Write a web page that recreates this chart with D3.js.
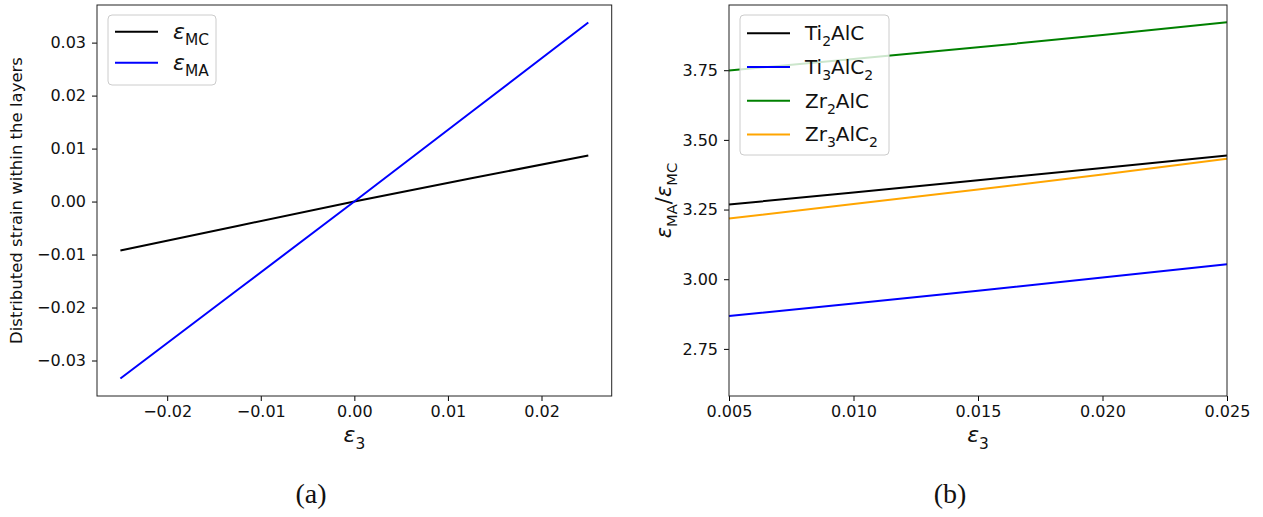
<!DOCTYPE html>
<html>
<head>
<meta charset="utf-8">
<script src="https://cdn.jsdelivr.net/npm/d3@7/dist/d3.min.js"></script>
<style>
  body { margin: 0; background: #fff; }
  svg { display: block; font-family: "DejaVu Sans", sans-serif; }
</style>
</head>
<body>
<div id="chart"></div>
<script>
// panel (a): strain in each layer vs applied strain
const strainX = [-0.025, -0.0125, 0, 0.0125, 0.025];
const strainMC = [-0.00925, -0.0046, 0, 0.0044, 0.00868];
const strainMA = [-0.0334, -0.0167, 0, 0.0169, 0.0338];

// panel (b): ratio eps_MA / eps_MC
const ratioX = [0.005, 0.010, 0.015, 0.020, 0.025];
const ti2alc = [3.268, 3.311, 3.355, 3.399, 3.444];
const ti3alc2 = [2.868, 2.913, 2.959, 3.006, 3.054];
const zr2alc = [3.749, 3.790, 3.832, 3.876, 3.922];
const zr3alc2 = [3.218, 3.270, 3.322, 3.376, 3.432];

const ticksA_x = [-0.02, -0.01, 0, 0.01, 0.02];
const ticksA_y = [-0.03, -0.02, -0.01, 0, 0.01, 0.02, 0.03];
const ticksB_x = [0.005, 0.010, 0.015, 0.020, 0.025];
const ticksB_y = [2.75, 3.00, 3.25, 3.50, 3.75];

const W = 1263, H = 517;
const svg = d3.select('#chart').append('svg').attr('width', W).attr('height', H);

// subscripted label: parts = [[text, isSub, italic]]
function richText(sel, parts, size) {
  let sub = false;
  parts.forEach(([t, isSub, ital]) => {
    const ts = sel.append('tspan').text(t)
      .attr('font-size', isSub ? size * 0.7 : size)
      .attr('font-style', ital ? 'italic' : 'normal');
    if (isSub && !sub) ts.attr('dy', size * 0.3);
    if (!isSub && sub) ts.attr('dy', -size * 0.3);
    sub = isSub;
  });
}

function panel(cfg) {
  const x = d3.scaleLinear().domain(cfg.xd).range([cfg.l, cfg.r]);
  const y = d3.scaleLinear().domain(cfg.yd).range([cfg.b, cfg.t]);
  const g = svg.append('g');

  g.append('g').attr('transform', `translate(0,${cfg.b})`)
    .call(d3.axisBottom(x).tickValues(cfg.xt).tickFormat(d3.format(cfg.xf)).tickSize(5).tickPadding(5))
    .call(a => a.select('.domain').remove())
    .call(a => a.selectAll('text').attr('font-size', 16).attr('font-family', 'DejaVu Sans').attr('fill', '#111'));
  g.append('g').attr('transform', `translate(${cfg.l},0)`)
    .call(d3.axisLeft(y).tickValues(cfg.yt).tickFormat(d3.format(cfg.yf)).tickSize(5).tickPadding(6))
    .call(a => a.select('.domain').remove())
    .call(a => a.selectAll('text').attr('font-size', 16).attr('font-family', 'DejaVu Sans').attr('fill', '#111'));

  const line = d3.line().x(d => x(d[0])).y(d => y(d[1]));
  cfg.series.forEach(s => {
    g.append('path').datum(cfg.xs.map((v, i) => [v, s.v[i]]))
      .attr('d', line).attr('fill', 'none').attr('stroke', s.c).attr('stroke-width', 2);
  });

  g.append('rect').attr('x', cfg.l).attr('y', cfg.t)
    .attr('width', cfg.r - cfg.l).attr('height', cfg.b - cfg.t)
    .attr('fill', 'none').attr('stroke', '#222').attr('stroke-width', 1);

  // legend
  const lg = cfg.legend;
  g.append('rect').attr('x', lg.x).attr('y', lg.y).attr('width', lg.w).attr('height', lg.h)
    .attr('rx', 4).attr('fill', 'rgba(255,255,255,0.8)').attr('stroke', '#ccc');
  cfg.series.forEach((s, i) => {
    const yy = lg.y0 + i * lg.dy;
    g.append('line').attr('x1', lg.x + 7).attr('x2', lg.x + 50).attr('y1', yy).attr('y2', yy)
      .attr('stroke', s.c).attr('stroke-width', 2);
    const t = g.append('text').attr('x', lg.x + 65).attr('y', yy + 7).attr('fill', '#111');
    richText(t, s.label, lg.fs);
  });

  // x label
  const xl = g.append('text').attr('x', (cfg.l + cfg.r) / 2).attr('y', 442)
    .attr('text-anchor', 'middle').attr('fill', '#111');
  richText(xl, [['ε', false, true], ['3', true, false]], 22);

  // y label
  const yl = g.append('text')
    .attr('transform', `translate(${cfg.ylx},${(cfg.t + cfg.b) / 2}) rotate(-90)`)
    .attr('text-anchor', 'middle').attr('fill', '#111');
  richText(yl, cfg.ylabel, cfg.ylsize);

  // caption
  svg.append('text').attr('x', cfg.capx).attr('y', 503).attr('text-anchor', 'middle')
    .attr('font-family', 'Liberation Serif, serif').attr('font-size', 28).attr('fill', '#111')
    .text(cfg.cap);
}

panel({
  l: 97, r: 611.7, t: 5, b: 396,
  xd: [-0.0275, 0.0275], yd: [-0.0367, 0.0371],
  xt: ticksA_x, yt: ticksA_y, xf: '.2f', yf: '.2f',
  xs: strainX,
  series: [
    { v: strainMC, c: '#000000', label: [['ε', false, true], ['MC', true, false]] },
    { v: strainMA, c: '#0000ff', label: [['ε', false, true], ['MA', true, false]] }
  ],
  legend: { x: 108, y: 15, w: 108, h: 70, y0: 31.7, dy: 31, fs: 22 },
  ylabel: [['Distributed strain within the layers', false, false]], ylsize: 16.5, ylx: 22,
  cap: '(a)', capx: 311
});

panel({
  l: 729, r: 1227, t: 5, b: 396,
  xd: [0.005, 0.025], yd: [2.581, 3.984],
  xt: ticksB_x, yt: ticksB_y, xf: '.3f', yf: '.2f',
  xs: ratioX,
  series: [
    { v: ti2alc, c: '#000000', label: [['Ti', false, false], ['2', true, false], ['AlC', false, false]] },
    { v: ti3alc2, c: '#0000ff', label: [['Ti', false, false], ['3', true, false], ['AlC', false, false], ['2', true, false]] },
    { v: zr2alc, c: '#008000', label: [['Zr', false, false], ['2', true, false], ['AlC', false, false]] },
    { v: zr3alc2, c: '#ffa500', label: [['Zr', false, false], ['3', true, false], ['AlC', false, false], ['2', true, false]] }
  ],
  legend: { x: 740, y: 15, w: 149, h: 140, y0: 33.3, dy: 33.7, fs: 20 },
  ylabel: [['ε', false, true], ['MA', true, false], ['/', false, false], ['ε', false, true], ['MC', true, false]], ylsize: 21, ylx: 671,
  cap: '(b)', capx: 950
});
</script>
</body>
</html>
